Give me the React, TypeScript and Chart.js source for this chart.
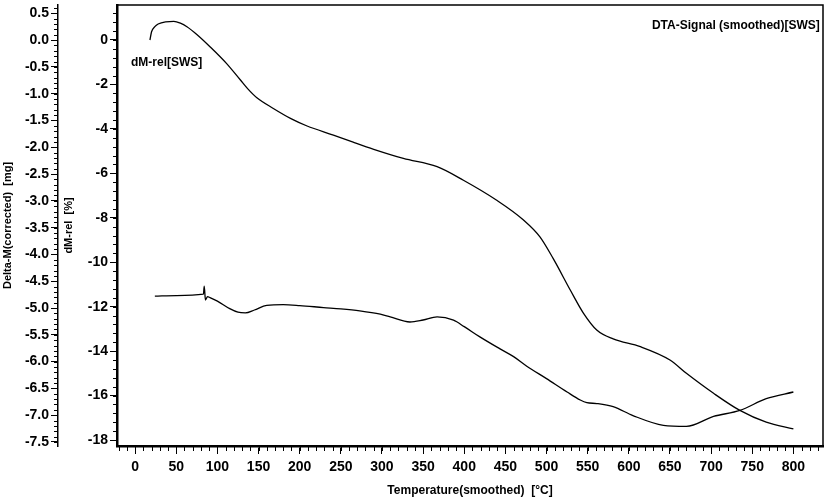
import React, { useEffect, useRef } from 'react';
import { Chart, registerables } from 'chart.js';
Chart.register(...registerables);

// TG curve: dM-rel [%] vs temperature
const tgTemp = [18, 20, 24, 28, 37, 47, 55, 63, 75, 91, 111, 128, 137, 148, 168, 190, 209, 241, 265, 290, 326, 367, 399, 439, 472, 492, 508, 529, 545, 561, 581, 614, 650, 670, 703, 735, 767, 800];
const tgRel = [0, 0.37, 0.6, 0.72, 0.82, 0.84, 0.76, 0.6, 0.25, -0.3, -1.05, -1.8, -2.2, -2.6, -3.08, -3.55, -3.87, -4.28, -4.6, -4.92, -5.33, -5.7, -6.31, -7.2, -8.1, -8.86, -9.83, -11.26, -12.3, -13.05, -13.45, -13.8, -14.4, -15.0, -15.9, -16.67, -17.2, -17.5];

// DTA signal (no axis shown; read in dM-rel axis units)
const dtaTemp = [24, 50, 83, 84, 85.5, 88, 91, 100, 115, 125, 134, 145, 160, 180, 200, 229, 250, 273, 298, 310, 334, 350, 367, 387, 400, 419, 443, 460, 476, 500, 525, 541, 549, 561, 581, 605, 642, 670, 703, 735, 767, 800];
const dtaVal = [-11.53, -11.5, -11.44, -11.08, -11.7, -11.55, -11.59, -11.75, -12.09, -12.25, -12.28, -12.15, -11.94, -11.91, -11.95, -12.04, -12.1, -12.19, -12.34, -12.46, -12.69, -12.6, -12.46, -12.61, -12.9, -13.36, -13.89, -14.25, -14.68, -15.24, -15.84, -16.2, -16.32, -16.36, -16.5, -16.9, -17.34, -17.39, -16.94, -16.67, -16.14, -15.84];

const xTickValues = [0, 50, 100, 150, 200, 250, 300, 350, 400, 450, 500, 550, 600, 650, 700, 750, 800];
const deltaMTicks = [0.5, 0, -0.5, -1, -1.5, -2, -2.5, -3, -3.5, -4, -4.5, -5, -5.5, -6, -6.5, -7, -7.5];
const relTicks = [0, -2, -4, -6, -8, -10, -12, -14, -16, -18];

const FONT = "'Liberation Sans', Arial, sans-serif";

const framePlugin = {
  id: 'frame',
  afterDraw(chart: any) {
    const { ctx, chartArea: a, scales } = chart;
    ctx.save();
    ctx.strokeStyle = '#000';
    ctx.lineWidth = 1.5;
    ctx.beginPath();
    ctx.moveTo(a.left, a.top);
    ctx.lineTo(a.right, a.top);
    ctx.lineTo(a.right, a.bottom);
    ctx.stroke();

    ctx.lineWidth = 1;
    const seg = (x1: number, y1: number, x2: number, y2: number) => {
      ctx.beginPath();
      ctx.moveTo(x1, y1);
      ctx.lineTo(x2, y2);
      ctx.stroke();
    };
    const xs = scales.x;
    for (let k = Math.ceil(xs.min / 10); k * 10 <= xs.max; k++) {
      const px = Math.round(xs.getPixelForValue(k * 10)) + 0.5;
      seg(px, a.bottom, px, a.bottom + 5);
    }
    const yr = scales.y;
    for (let k = Math.ceil(yr.min / 0.4); k * 0.4 <= yr.max; k++) {
      const py = Math.round(yr.getPixelForValue(k * 0.4)) + 0.5;
      seg(a.left - 4, py, a.left, py);
    }
    const ym = scales.ym;
    for (let k = Math.ceil(ym.min / 0.1); k * 0.1 <= ym.max; k++) {
      const py = Math.round(ym.getPixelForValue(k * 0.1)) + 0.5;
      seg(ym.right - 4, py, ym.right, py);
    }

    ctx.fillStyle = '#000';
    ctx.font = `bold 12px ${FONT}`;
    ctx.textBaseline = 'middle';
    ctx.textAlign = 'left';
    ctx.fillText('dM-rel[SWS]', xs.getPixelForValue(-5), yr.getPixelForValue(-1.04));
    ctx.textAlign = 'right';
    ctx.fillText('DTA-Signal (smoothed)[SWS]', xs.getPixelForValue(832), yr.getPixelForValue(0.63));
    ctx.restore();
  },
};

export default function App() {
  const ref = useRef<HTMLCanvasElement>(null);
  useEffect(() => {
    document.body.style.margin = '0';
    const tick = { color: '#000', font: { family: FONT, size: 14, weight: 'bold' as const } };
    const chart = new Chart(ref.current as HTMLCanvasElement, {
      type: 'line',
      data: {
        datasets: [
          {
            label: 'dM-rel[SWS]',
            data: tgTemp.map((t, i) => ({ x: t, y: tgRel[i] })),
            yAxisID: 'y',
            borderColor: '#000',
            borderWidth: 1.3,
            pointRadius: 0,
            fill: false,
            cubicInterpolationMode: 'monotone',
          },
          {
            label: 'DTA-Signal (smoothed)[SWS]',
            data: dtaTemp.map((t, i) => ({ x: t, y: dtaVal[i] })),
            yAxisID: 'yd',
            borderColor: '#000',
            borderWidth: 1.3,
            pointRadius: 0,
            fill: false,
            cubicInterpolationMode: 'monotone',
          },
        ],
      },
      options: {
        animation: false,
        responsive: false,
        layout: { padding: { top: 5, right: 5, left: 0, bottom: 0 } },
        plugins: { legend: { display: false }, tooltip: { enabled: false } },
        scales: {
          x: {
            type: 'linear',
            min: -22,
            max: 836,
            afterBuildTicks: (s: any) => { s.ticks = xTickValues.map((v) => ({ value: v })); },
            afterFit: (s: any) => { s.height = 53; },
            ticks: { ...tick, padding: 5, maxRotation: 0, autoSkip: false, callback: (v: any) => String(v) },
            grid: { drawOnChartArea: false, tickLength: 8, color: '#000', tickWidth: 1 },
            border: { color: '#000', width: 2.5 },
            title: {
              display: true,
              text: 'Temperature(smoothed)  [°C]',
              color: '#000',
              font: { family: FONT, size: 12, weight: 'bold' },
              padding: { top: 0, bottom: 1 },
            },
          },
          y: {
            position: 'left',
            weight: 0,
            min: -18.27,
            max: 1.575,
            afterBuildTicks: (s: any) => { s.ticks = relTicks.map((v) => ({ value: v })); },
            afterFit: (s: any) => { s.width = 59; s.paddingTop = 0; s.paddingBottom = 0; },
            ticks: { ...tick, padding: 2, callback: (v: any) => String(v) },
            grid: { drawOnChartArea: false, tickLength: 7, color: '#000', tickWidth: 1 },
            border: { color: '#000', width: 2.5 },
            title: {
              display: true,
              text: 'dM-rel  [%]',
              color: '#000',
              font: { family: FONT, size: 11, weight: 'bold' },
              padding: { top: 4, bottom: 0 },
            },
          },
          ym: {
            position: 'left',
            weight: 1,
            min: -7.575,
            max: 0.655,
            afterBuildTicks: (s: any) => { s.ticks = deltaMTicks.map((v) => ({ value: v })); },
            afterFit: (s: any) => { s.width = 58; s.paddingTop = 0; s.paddingBottom = 0; },
            ticks: { ...tick, padding: 2, callback: (v: any) => Number(v).toFixed(1) },
            grid: { drawOnChartArea: false, tickLength: 7, color: '#000', tickWidth: 1 },
            border: { color: '#000', width: 1.5 },
            title: {
              display: true,
              text: 'Delta-M(corrected)  [mg]',
              color: '#000',
              font: { family: FONT, size: 11, weight: 'bold' },
              padding: { top: 1.5, bottom: 0 },
            },
          },
          yd: {
            display: false,
            min: -18.27,
            max: 1.575,
          },
        },
      } as any,
      plugins: [framePlugin],
    });
    return () => chart.destroy();
  }, []);
  return (
    <div style={{ width: 828, height: 499 }}>
      <canvas ref={ref} width={828} height={499} style={{ display: 'block' }} />
    </div>
  );
}
